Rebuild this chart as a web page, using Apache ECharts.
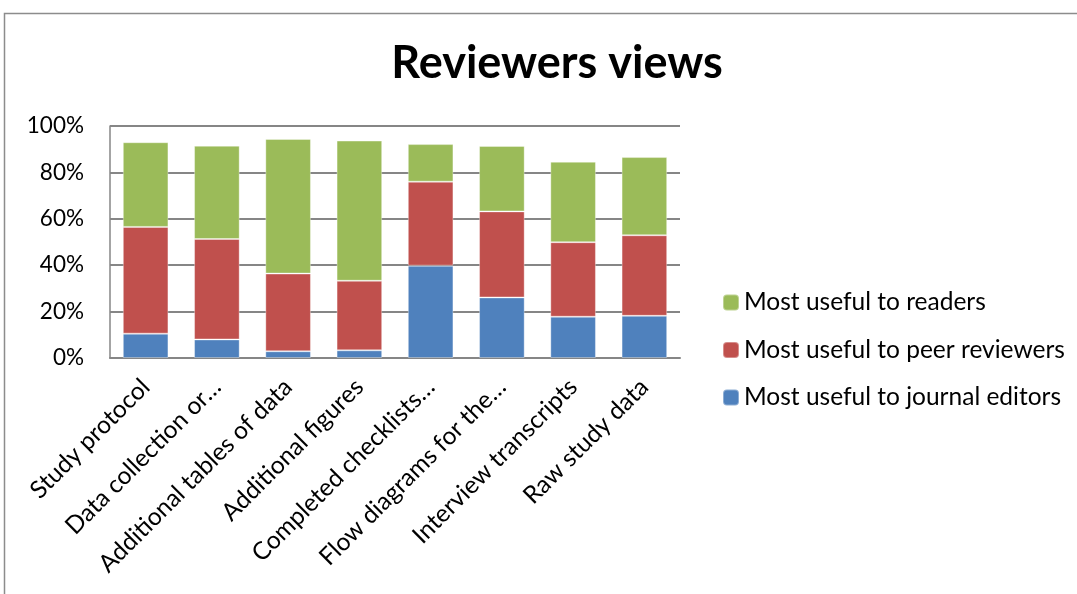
<!DOCTYPE html>
<html><head><meta charset="utf-8">
<script src="https://cdn.jsdelivr.net/npm/echarts@6/dist/echarts.min.js"></script>
<style>html,body{margin:0;padding:0;background:#fff}#c{width:1077px;height:594px}</style>
</head><body><div id="c"></div>
<script>
const categories = ["Study protocol","Data collection or…","Additional tables of data","Additional figures","Completed checklists…","Flow diagrams for the…","Interview transcripts","Raw study data"];
const editors = [10.5, 8.0, 2.9, 3.3, 39.8, 26.1, 17.8, 18.2];
const peerReviewers = [46.0, 43.3, 33.5, 30.0, 36.2, 37.1, 32.1, 34.7];
const readers = [36.5, 40.2, 58.0, 60.4, 16.2, 28.2, 34.7, 33.7];
const seriesNames = ["Most useful to journal editors","Most useful to peer reviewers","Most useful to readers"];
const colors = ["#4F81BD","#C0504D","#9BBB59"];

const chart = echarts.init(document.getElementById('c'), null, {renderer:'canvas'});
const font = 'Lato, Calibri, "Open Sans", sans-serif';
const mk = (name, data, color) => ({
  name, type:'bar', stack:'s', data, barCategoryGap:'36%',
  itemStyle:{color, borderColor:'rgba(255,255,255,0.35)', borderWidth:1}
});
chart.setOption({
  animation:false,
  graphic:[{type:'rect', shape:{x:4.5, y:13.5, width:1200, height:700}, style:{fill:null, stroke:'#8c8c8c', lineWidth:1.5}, silent:true}],
  title:{text:'Reviewers views', left:552, top:36, textAlign:'center',
    textStyle:{fontFamily:font, fontWeight:'bold', fontSize:45, color:'#000'}},
  legend:{orient:'vertical', left:717, top:285, itemWidth:16, itemHeight:16, itemGap:22.5,
    data:[seriesNames[2], seriesNames[1], seriesNames[0]],
    textStyle:{fontFamily:font, fontSize:24.5, color:'#000', padding:[0,0,0,0]}},
  grid:{left:110, right:397, top:126, bottom:236, containLabel:false},
  xAxis:{type:'category', data:categories,
    axisLine:{show:true, lineStyle:{color:'#868686', width:2}},
    axisTick:{show:false},
    axisLabel:{rotate:45, interval:0, fontFamily:font, fontSize:24.5, color:'#000', margin:25}},
  yAxis:{type:'value', min:0, max:100, interval:20,
    axisLine:{show:true, lineStyle:{color:'#868686', width:1.5}},
    axisTick:{show:false},
    splitLine:{lineStyle:{color:'#868686', width:2}},
    axisLabel:{formatter:'{value}%', fontFamily:font, fontSize:22.5, color:'#000', margin:26}},
  series:[mk(seriesNames[0], editors, colors[0]), mk(seriesNames[1], peerReviewers, colors[1]), mk(seriesNames[2], readers, colors[2])]
});
</script></body></html>
